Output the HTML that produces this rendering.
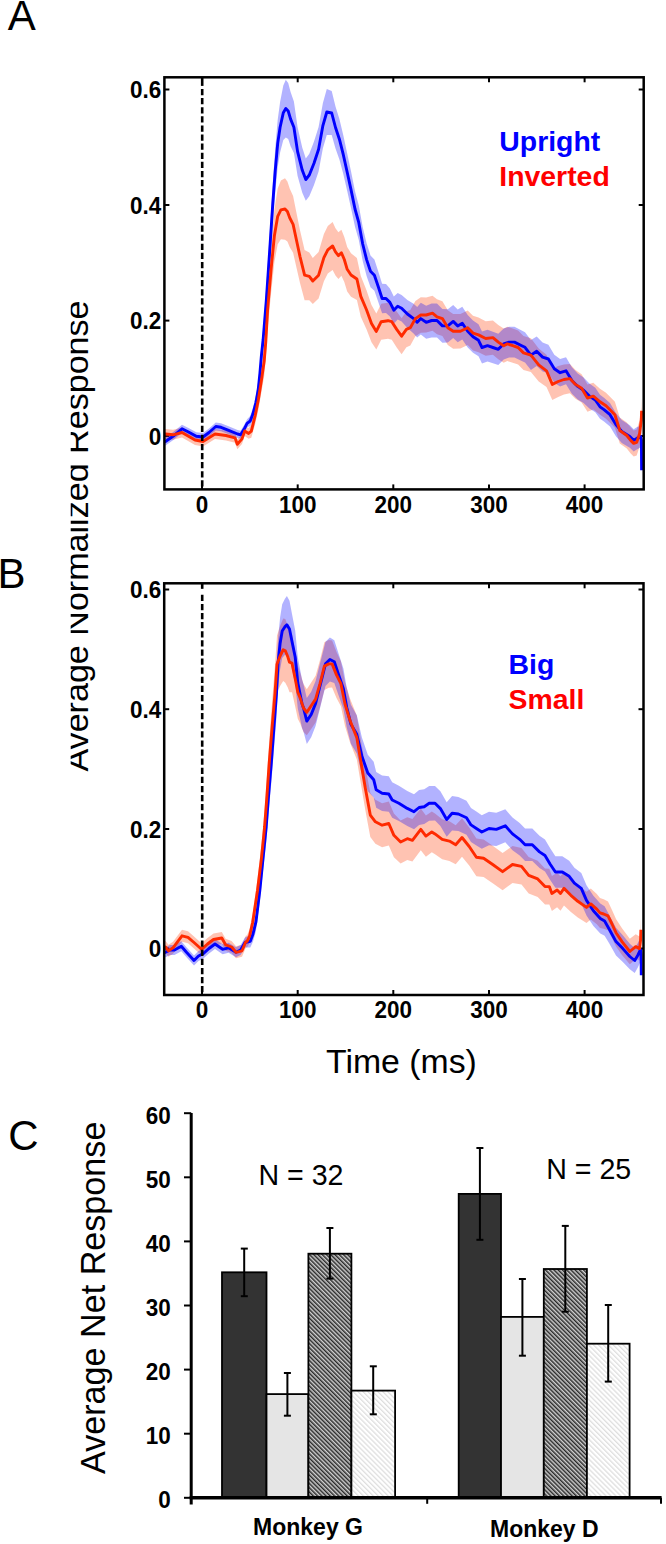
<!DOCTYPE html>
<html><head><meta charset="utf-8"><style>
html,body{margin:0;padding:0;background:#fff;overflow:hidden;}
svg{display:block;}
</style></head><body>
<svg width="666" height="1544" viewBox="0 0 666 1544" style="isolation:isolate">
<rect width="666" height="1544" fill="#fff"/>
<line x1="164.4" y1="89.5" x2="169.4" y2="89.5" stroke="#000" stroke-width="2"/>
<line x1="638.7" y1="89.5" x2="643.7" y2="89.5" stroke="#000" stroke-width="2"/>
<line x1="164.4" y1="205" x2="169.4" y2="205" stroke="#000" stroke-width="2"/>
<line x1="638.7" y1="205" x2="643.7" y2="205" stroke="#000" stroke-width="2"/>
<line x1="164.4" y1="320.6" x2="169.4" y2="320.6" stroke="#000" stroke-width="2"/>
<line x1="638.7" y1="320.6" x2="643.7" y2="320.6" stroke="#000" stroke-width="2"/>
<line x1="164.4" y1="436" x2="169.4" y2="436" stroke="#000" stroke-width="2"/>
<line x1="638.7" y1="436" x2="643.7" y2="436" stroke="#000" stroke-width="2"/>
<line x1="202" y1="77.3" x2="202" y2="82.3" stroke="#000" stroke-width="2"/>
<line x1="202" y1="484.4" x2="202" y2="489.4" stroke="#000" stroke-width="2"/>
<line x1="297.7" y1="77.3" x2="297.7" y2="82.3" stroke="#000" stroke-width="2"/>
<line x1="297.7" y1="484.4" x2="297.7" y2="489.4" stroke="#000" stroke-width="2"/>
<line x1="393.3" y1="77.3" x2="393.3" y2="82.3" stroke="#000" stroke-width="2"/>
<line x1="393.3" y1="484.4" x2="393.3" y2="489.4" stroke="#000" stroke-width="2"/>
<line x1="489" y1="77.3" x2="489" y2="82.3" stroke="#000" stroke-width="2"/>
<line x1="489" y1="484.4" x2="489" y2="489.4" stroke="#000" stroke-width="2"/>
<line x1="584.6" y1="77.3" x2="584.6" y2="82.3" stroke="#000" stroke-width="2"/>
<line x1="584.6" y1="484.4" x2="584.6" y2="489.4" stroke="#000" stroke-width="2"/>
<polygon points="164.5,429.0 165.5,429.0 173.0,429.8 182.0,427.5 195.0,435.0 203.0,436.5 215.0,429.0 226.0,430.5 235.0,432.8 237.3,439.3 242.0,433.9 244.7,426.1 248.6,428.1 251.3,424.5 255.2,406.9 258.3,389.9 261.4,368.8 264.2,346.2 265.8,324.8 267.6,290.7 271.2,244.1 274.4,209.5 277.7,188.5 280.9,180.4 285.0,178.3 287.4,181.5 289.8,188.7 293.1,196.0 296.5,212.9 300.0,230.2 304.6,250.1 309.3,252.6 312.8,258.0 318.6,251.9 323.9,234.0 327.8,226.0 332.6,222.1 335.5,228.2 338.4,232.3 341.4,229.7 344.3,236.9 347.2,247.0 351.0,253.2 356.9,258.1 360.8,276.1 366.6,290.6 371.5,304.9 376.3,313.4 381.2,303.7 388.0,302.7 391.8,303.7 396.7,311.4 401.6,318.2 406.4,311.5 410.3,309.9 415.4,300.9 420.8,297.3 426.2,297.4 432.5,295.7 437.0,299.3 442.4,301.2 447.8,310.3 453.2,313.9 460.4,314.0 467.7,310.4 473.0,315.8 478.5,317.6 485.7,321.3 492.9,320.4 498.3,324.9 503.7,328.6 507.3,326.8 512.7,328.6 518.1,330.4 523.5,335.9 530.9,338.2 538.7,348.4 546.5,354.7 552.3,368.7 558.2,366.1 564.0,364.4 569.9,363.9 575.5,370.0 581.6,374.2 587.5,384.4 593.3,382.7 600.0,388.8 606.0,392.8 611.0,397.7 614.9,401.7 619.8,417.5 626.8,422.5 630.7,427.4 633.7,430.4 636.7,429.4 639.6,420.5 641.3,407.0 641.6,397.7 641.6,423.7 641.3,433.0 639.6,446.5 636.7,455.4 633.7,456.4 630.7,453.4 626.8,448.5 619.8,443.5 614.9,427.7 611.0,423.7 606.0,418.8 600.0,414.8 593.3,409.5 587.5,411.8 581.6,402.4 575.5,398.8 569.9,393.3 564.0,394.6 558.2,396.9 552.3,400.1 546.5,386.9 538.7,381.4 530.9,372.0 523.5,369.9 518.1,364.6 512.7,362.8 507.3,361.0 503.7,362.8 498.3,359.3 492.9,354.8 485.7,355.7 478.5,352.2 473.0,350.4 467.7,345.0 460.4,348.6 453.2,348.7 447.8,345.1 442.4,336.0 437.0,334.3 432.5,330.7 426.2,332.6 420.8,332.7 415.4,336.3 410.3,345.5 406.4,347.3 401.6,354.2 396.7,347.4 391.8,339.7 388.0,338.7 381.2,339.7 376.3,349.4 371.5,342.3 366.6,329.4 360.8,316.7 356.9,299.9 351.0,296.8 347.2,291.6 344.3,282.1 341.4,275.7 338.4,278.9 335.5,275.4 332.6,269.9 327.8,273.6 323.9,281.2 318.6,298.5 312.8,304.0 309.3,300.2 304.6,300.3 300.0,283.0 296.5,267.7 293.1,252.8 289.8,247.3 287.4,241.5 285.0,239.7 280.9,239.2 277.7,244.2 274.4,261.9 271.2,292.1 267.6,329.3 265.8,358.6 264.2,376.0 261.4,392.2 258.3,410.1 255.2,424.1 251.3,437.8 248.6,438.7 244.7,436.1 242.0,443.9 237.3,449.3 235.0,442.8 226.0,440.5 215.0,439.0 203.0,446.5 195.0,445.0 182.0,437.5 173.0,439.8 165.5,439.0 164.5,439.0" fill="#ff3700" fill-opacity="0.3"/>
<polygon points="164.5,438.0 165.5,437.5 173.0,432.3 182.0,424.8 188.0,427.8 196.3,432.3 203.0,433.0 209.0,428.5 215.8,422.5 221.0,423.3 228.6,426.3 237.6,430.0 240.6,430.8 244.3,424.8 247.1,419.3 250.2,416.1 252.9,407.9 256.0,394.9 258.3,380.7 259.9,364.4 261.4,346.0 263.1,329.0 266.3,286.5 269.6,235.0 272.8,183.4 275.2,148.9 277.7,119.7 280.1,102.0 283.3,85.4 285.8,79.7 288.2,82.9 290.6,91.9 293.9,101.4 297.6,127.2 302.3,147.8 305.8,158.5 309.3,153.7 314.0,141.5 318.6,127.1 322.9,103.0 326.8,89.0 331.7,91.0 335.5,106.4 339.4,119.0 343.3,135.3 347.2,153.5 351.0,171.3 355.0,191.2 358.8,205.4 362.7,227.1 366.6,243.2 370.5,255.4 374.4,259.6 378.3,271.6 382.1,283.7 386.0,284.1 389.9,288.4 393.8,296.6 397.7,293.1 401.6,295.0 407.4,300.0 413.6,303.8 417.2,307.0 420.8,302.8 426.2,305.8 431.6,303.5 437.0,303.6 442.4,309.1 447.8,309.3 453.2,304.9 457.7,309.5 462.3,306.8 467.7,315.1 473.0,320.6 478.5,324.3 482.0,331.5 487.5,329.8 492.9,331.8 498.3,333.7 503.7,328.4 509.1,326.7 514.5,326.8 521.7,330.5 525.0,332.2 530.9,340.1 536.7,336.5 542.6,342.6 548.4,344.8 554.3,354.8 560.1,359.0 566.0,357.3 571.9,367.3 577.7,373.4 583.6,377.6 589.4,383.6 595.3,387.8 600.0,394.8 604.0,397.8 610.0,402.9 615.9,413.0 621.8,420.0 629.8,425.2 633.7,429.2 636.7,427.3 640.6,425.5 641.4,429.0 641.6,459.2 641.6,481.2 641.4,451.0 640.6,447.5 636.7,449.5 633.7,451.6 629.8,447.8 621.8,443.0 615.9,436.2 610.0,426.4 604.0,421.6 600.0,418.8 595.3,412.2 589.4,408.6 583.6,403.0 577.7,399.4 571.9,393.7 566.0,384.3 560.1,386.4 554.3,382.8 548.4,373.2 542.6,371.6 536.7,365.9 530.9,370.1 525.0,362.4 521.7,360.9 514.5,357.4 509.1,357.5 503.7,359.4 498.3,364.9 492.9,363.2 487.5,361.6 482.0,363.5 478.5,356.3 473.0,352.8 467.7,347.5 462.3,339.6 457.7,342.3 453.2,337.9 447.8,342.5 442.4,342.7 437.0,337.4 431.6,337.5 426.2,338.8 420.8,334.4 417.2,337.6 413.6,333.4 407.4,328.0 401.6,321.4 397.7,319.5 393.8,323.8 389.9,316.4 386.0,312.9 382.1,313.3 378.3,302.0 374.4,290.8 370.5,287.2 366.6,276.0 362.7,260.9 358.8,240.0 355.0,226.8 351.0,207.9 347.2,190.9 343.3,174.1 339.4,159.4 335.5,148.6 331.7,135.0 326.8,135.0 322.9,148.2 318.6,171.5 314.0,185.1 309.3,196.3 305.8,200.7 302.3,192.8 297.6,176.0 293.9,153.0 290.6,146.3 288.2,139.1 285.8,137.5 283.3,140.0 280.1,152.4 277.7,167.1 275.2,193.1 272.8,223.4 269.6,269.0 266.3,314.5 263.1,351.0 261.4,365.4 259.9,382.6 258.3,397.5 256.0,409.7 252.9,420.1 250.2,425.9 247.1,427.3 244.3,432.8 240.6,438.8 237.6,438.0 228.6,434.3 221.0,431.3 215.8,430.5 209.0,436.5 203.0,441.0 196.3,440.3 188.0,435.8 182.0,432.8 173.0,440.3 165.5,445.5 164.5,446.0" fill="#0000ff" fill-opacity="0.3"/>
<polyline points="164.5,442.0 165.5,441.5 173.0,436.3 182.0,428.8 188.0,431.8 196.3,436.3 203.0,437.0 209.0,432.5 215.8,426.5 221.0,427.3 228.6,430.3 237.6,434.0 240.6,434.8 244.3,428.8 247.1,423.3 250.2,421.0 252.9,414.0 256.0,402.3 258.3,389.1 259.9,373.5 261.4,355.7 263.1,340.0 266.3,300.5 269.6,252.0 272.8,203.4 275.2,171.0 277.7,143.4 280.1,127.2 283.3,112.7 285.8,108.6 288.2,111.0 290.6,119.1 293.9,127.2 297.6,151.6 302.3,170.3 305.8,179.6 309.3,175.0 314.0,163.3 318.6,149.3 322.9,125.6 326.8,112.0 331.7,113.0 335.5,127.5 339.4,139.2 343.3,154.7 347.2,172.2 351.0,189.6 355.0,209.0 358.8,222.7 362.7,244.0 366.6,259.6 370.5,271.3 374.4,275.2 378.3,286.8 382.1,298.5 386.0,298.5 389.9,302.4 393.8,310.2 397.7,306.3 401.6,308.2 407.4,314.0 413.6,318.6 417.2,322.3 420.8,318.6 426.2,322.3 431.6,320.5 437.0,320.5 442.4,325.9 447.8,325.9 453.2,321.4 457.7,325.9 462.3,323.2 467.7,331.3 473.0,336.7 478.5,340.3 482.0,347.5 487.5,345.7 492.9,347.5 498.3,349.3 503.7,343.9 509.1,342.1 514.5,342.1 521.7,345.7 525.0,347.3 530.9,355.1 536.7,351.2 542.6,357.1 548.4,359.0 554.3,368.8 560.1,372.7 566.0,370.8 571.9,380.5 577.7,386.4 583.6,390.3 589.4,396.1 595.3,400.0 600.0,406.8 604.0,409.7 610.0,414.7 615.9,424.6 621.8,431.5 629.8,436.5 633.7,440.4 636.7,438.4 640.6,436.5 641.4,440.0 641.6,470.2" fill="none" stroke="#0000ff" stroke-width="2.9" stroke-linejoin="round"/>
<polyline points="164.5,434.0 165.5,434.0 173.0,434.8 182.0,432.5 195.0,440.0 203.0,441.5 215.0,434.0 226.0,435.5 235.0,437.8 237.3,444.3 242.0,438.9 244.7,431.1 248.6,433.4 251.3,431.1 255.2,415.5 258.3,400.0 261.4,380.5 264.2,361.1 265.8,341.7 267.6,310.0 271.2,268.1 274.4,235.7 277.7,216.3 280.9,209.8 285.0,209.0 287.4,211.5 289.8,218.0 293.1,224.4 296.5,240.3 300.0,256.6 304.6,275.2 309.3,276.4 312.8,281.0 318.6,275.2 323.9,257.6 327.8,249.8 332.6,246.0 335.5,251.8 338.4,255.6 341.4,252.7 344.3,259.5 347.2,269.3 351.0,275.0 356.9,279.0 360.8,296.4 366.6,310.0 371.5,323.6 376.3,331.4 381.2,321.7 388.0,320.7 391.8,321.7 396.7,329.4 401.6,336.2 406.4,329.4 410.3,327.7 415.4,318.6 420.8,315.0 426.2,315.0 432.5,313.2 437.0,316.8 442.4,318.6 447.8,327.7 453.2,331.3 460.4,331.3 467.7,327.7 473.0,333.1 478.5,334.9 485.7,338.5 492.9,337.6 498.3,342.1 503.7,345.7 507.3,343.9 512.7,345.7 518.1,347.5 523.5,352.9 530.9,355.1 538.7,364.9 546.5,370.8 552.3,384.4 558.2,381.5 564.0,379.5 569.9,378.6 575.5,384.4 581.6,388.3 587.5,398.1 593.3,396.1 600.0,401.8 606.0,405.8 611.0,410.7 614.9,414.7 619.8,430.5 626.8,435.5 630.7,440.4 633.7,443.4 636.7,442.4 639.6,433.5 641.3,420.0 641.6,410.7" fill="none" stroke="#ff2a00" stroke-width="2.9" stroke-linejoin="round"/>
<line x1="202.2" y1="77.3" x2="202.2" y2="85.9" stroke="#000" stroke-width="2.6"/>
<line x1="202.2" y1="89.0" x2="202.2" y2="489.4" stroke="#000" stroke-width="2.6" stroke-dasharray="6.25,2.85"/>
<rect x="164.4" y="77.3" width="479.3" height="412.1" fill="none" stroke="#000" stroke-width="2.5"/>
<text transform="translate(161.20,98.10) scale(1,1.05)" text-anchor="end" font-family="'Liberation Sans', sans-serif" font-weight="bold" font-size="22.5" fill="#000">0.6</text>
<text transform="translate(161.20,213.60) scale(1,1.05)" text-anchor="end" font-family="'Liberation Sans', sans-serif" font-weight="bold" font-size="22.5" fill="#000">0.4</text>
<text transform="translate(161.20,329.20) scale(1,1.05)" text-anchor="end" font-family="'Liberation Sans', sans-serif" font-weight="bold" font-size="22.5" fill="#000">0.2</text>
<text transform="translate(161.20,444.60) scale(1,1.05)" text-anchor="end" font-family="'Liberation Sans', sans-serif" font-weight="bold" font-size="22.5" fill="#000">0</text>
<text transform="translate(202.00,512.50) scale(1,1.05)" text-anchor="middle" font-family="'Liberation Sans', sans-serif" font-weight="bold" font-size="22.5" fill="#000">0</text>
<text transform="translate(297.70,512.50) scale(1,1.05)" text-anchor="middle" font-family="'Liberation Sans', sans-serif" font-weight="bold" font-size="22.5" fill="#000">100</text>
<text transform="translate(393.30,512.50) scale(1,1.05)" text-anchor="middle" font-family="'Liberation Sans', sans-serif" font-weight="bold" font-size="22.5" fill="#000">200</text>
<text transform="translate(489.00,512.50) scale(1,1.05)" text-anchor="middle" font-family="'Liberation Sans', sans-serif" font-weight="bold" font-size="22.5" fill="#000">300</text>
<text transform="translate(584.60,512.50) scale(1,1.05)" text-anchor="middle" font-family="'Liberation Sans', sans-serif" font-weight="bold" font-size="22.5" fill="#000">400</text>
<text transform="translate(499.30,150.80)" text-anchor="start" font-family="'Liberation Sans', sans-serif" font-weight="bold" font-size="28.4" fill="#0000ff">Upright</text>
<text transform="translate(499.30,186.30)" text-anchor="start" font-family="'Liberation Sans', sans-serif" font-weight="bold" font-size="28.4" fill="#ff0000">Inverted</text>
<line x1="164.2" y1="589.5" x2="169.2" y2="589.5" stroke="#000" stroke-width="2"/>
<line x1="638.5" y1="589.5" x2="643.5" y2="589.5" stroke="#000" stroke-width="2"/>
<line x1="164.2" y1="709.2" x2="169.2" y2="709.2" stroke="#000" stroke-width="2"/>
<line x1="638.5" y1="709.2" x2="643.5" y2="709.2" stroke="#000" stroke-width="2"/>
<line x1="164.2" y1="829" x2="169.2" y2="829" stroke="#000" stroke-width="2"/>
<line x1="638.5" y1="829" x2="643.5" y2="829" stroke="#000" stroke-width="2"/>
<line x1="164.2" y1="948.5" x2="169.2" y2="948.5" stroke="#000" stroke-width="2"/>
<line x1="638.5" y1="948.5" x2="643.5" y2="948.5" stroke="#000" stroke-width="2"/>
<line x1="202" y1="583.3" x2="202" y2="588.3" stroke="#000" stroke-width="2"/>
<line x1="202" y1="990" x2="202" y2="995" stroke="#000" stroke-width="2"/>
<line x1="297.7" y1="583.3" x2="297.7" y2="588.3" stroke="#000" stroke-width="2"/>
<line x1="297.7" y1="990" x2="297.7" y2="995" stroke="#000" stroke-width="2"/>
<line x1="393.3" y1="583.3" x2="393.3" y2="588.3" stroke="#000" stroke-width="2"/>
<line x1="393.3" y1="990" x2="393.3" y2="995" stroke="#000" stroke-width="2"/>
<line x1="489" y1="583.3" x2="489" y2="588.3" stroke="#000" stroke-width="2"/>
<line x1="489" y1="990" x2="489" y2="995" stroke="#000" stroke-width="2"/>
<line x1="584.6" y1="583.3" x2="584.6" y2="588.3" stroke="#000" stroke-width="2"/>
<line x1="584.6" y1="990" x2="584.6" y2="995" stroke="#000" stroke-width="2"/>
<polygon points="164.5,941.0 165.5,941.0 168.5,944.8 173.0,941.8 182.0,929.8 188.0,931.3 194.0,936.5 201.5,943.3 207.5,938.0 213.5,933.5 221.8,932.0 225.6,938.8 231.6,941.0 236.0,946.3 242.0,944.8 245.8,935.8 247.1,935.3 249.6,929.1 252.7,913.5 257.5,879.1 261.4,845.0 264.6,810.2 267.0,775.8 269.2,741.2 272.2,701.0 275.0,665.3 277.0,635.4 280.1,626.0 283.2,618.4 285.3,618.9 287.9,626.2 289.5,632.1 292.0,634.2 295.2,651.2 297.8,665.7 300.3,673.0 302.0,678.9 303.5,683.9 306.8,689.3 311.2,682.5 315.6,675.7 320.0,660.1 324.4,642.3 328.8,640.0 332.1,640.4 336.5,651.9 340.9,661.2 345.0,682.0 350.1,698.8 356.8,715.6 360.2,735.8 365.3,766.1 370.3,793.1 375.4,799.8 382.1,803.2 388.8,801.5 393.9,813.4 400.6,820.4 407.3,817.3 412.4,819.1 420.8,808.6 425.9,815.4 431.8,811.5 435.0,813.6 442.2,819.3 449.4,821.3 455.7,825.2 462.0,818.2 469.2,827.5 476.4,838.4 483.6,839.4 492.7,845.8 502.6,853.1 512.5,846.1 521.5,848.0 528.7,857.1 537.7,860.8 545.0,868.6 549.3,868.8 551.9,875.9 557.1,872.7 560.5,876.3 564.0,871.4 570.9,878.7 577.8,885.1 586.5,891.7 590.8,888.4 596.8,893.9 600.0,897.9 603.7,899.3 608.0,901.5 612.0,909.9 616.0,918.9 622.0,928.2 629.8,938.7 635.7,934.3 639.6,936.6 640.6,928.0 640.9,917.7 640.9,941.7 640.6,952.0 639.6,960.6 635.7,958.9 629.8,964.3 622.0,955.0 616.0,946.5 612.0,938.1 608.0,930.3 603.7,928.7 600.0,927.9 596.8,924.3 590.8,919.4 586.5,923.1 577.8,917.5 570.9,911.9 564.0,905.4 560.5,910.7 557.1,907.3 551.9,911.1 549.3,904.4 545.0,904.6 537.7,897.0 528.7,893.5 521.5,884.6 512.5,882.9 502.6,890.3 492.7,883.2 483.6,877.0 476.4,876.2 469.2,865.5 462.0,856.8 455.7,864.2 449.4,860.9 442.2,859.3 435.0,854.2 431.8,852.3 425.9,856.8 420.8,850.2 412.4,861.5 407.3,860.1 400.6,863.6 393.9,857.2 388.8,845.5 382.1,847.2 375.4,843.8 370.3,837.1 365.3,810.1 360.2,779.8 356.8,759.6 350.1,742.8 345.0,726.0 340.9,706.2 336.5,697.9 332.1,687.4 328.8,687.8 324.4,689.9 320.0,707.3 315.6,722.5 311.2,728.9 306.8,735.3 303.5,732.1 302.0,728.3 300.3,723.8 297.8,718.7 295.2,706.4 292.0,692.2 289.5,692.3 287.9,687.8 285.3,682.7 283.2,681.0 280.1,686.0 277.0,693.0 275.0,721.3 272.2,751.0 269.2,784.8 267.0,814.6 264.6,843.8 261.4,872.4 257.5,901.9 252.7,930.9 249.6,942.9 247.1,947.3 245.8,947.8 242.0,956.8 236.0,958.3 231.6,953.0 225.6,950.8 221.8,944.0 213.5,945.5 207.5,950.0 201.5,955.3 194.0,948.5 188.0,943.3 182.0,941.8 173.0,953.8 168.5,956.8 165.5,953.0 164.5,953.0" fill="#ff3700" fill-opacity="0.3"/>
<polygon points="164.5,947.5 165.5,947.3 170.0,945.0 174.5,945.0 181.3,941.3 186.5,947.3 194.0,955.5 198.5,951.0 203.0,948.8 209.0,943.5 215.0,939.0 222.6,944.3 228.6,942.8 236.0,947.3 240.6,945.0 245.0,937.5 250.3,935.1 253.0,926.5 255.9,913.2 259.8,879.6 263.0,845.8 266.2,811.4 268.6,777.5 271.4,741.9 273.9,705.8 276.5,669.1 278.1,637.2 280.1,617.6 282.2,604.3 284.8,598.9 286.9,595.9 289.5,600.8 292.0,614.1 295.2,630.6 297.8,657.3 300.3,670.5 302.0,679.3 303.5,684.2 306.8,698.1 311.2,691.7 315.6,680.9 320.0,663.5 325.5,641.7 329.9,637.5 334.3,640.3 338.7,654.1 343.4,668.6 346.7,687.4 350.9,704.7 356.8,715.2 361.9,737.6 367.8,754.8 373.7,761.8 376.2,771.9 382.1,775.4 388.8,776.3 392.2,782.3 398.9,785.7 407.3,790.9 414.0,794.2 419.1,790.1 424.2,789.3 429.2,785.9 435.0,785.9 440.4,791.3 446.7,802.3 452.1,796.0 458.4,796.9 466.5,800.7 471.0,807.9 476.4,811.6 481.8,815.2 489.0,811.8 496.3,812.8 505.3,809.3 512.5,817.5 519.7,823.0 525.1,828.4 532.3,828.5 539.5,835.8 545.0,839.5 550.2,848.3 555.4,856.2 562.3,856.3 569.2,860.7 574.4,867.7 581.3,873.1 586.5,885.2 593.4,895.7 600.3,903.5 604.6,906.3 609.0,914.4 616.0,927.8 622.8,935.3 629.8,943.7 634.7,948.1 637.7,943.3 640.6,937.5 641.1,943.0 641.3,963.3 641.3,987.3 641.1,967.0 640.6,961.5 637.7,967.7 634.7,972.9 629.8,969.3 622.8,961.9 616.0,955.4 609.0,943.0 604.6,935.7 600.3,933.5 593.4,925.9 586.5,915.6 581.3,903.7 574.4,898.7 569.2,891.9 562.3,887.7 555.4,887.8 550.2,880.1 545.0,871.5 539.5,868.0 532.3,860.9 525.1,861.0 519.7,855.6 512.5,850.3 505.3,842.3 496.3,846.0 489.0,845.2 481.8,848.8 476.4,845.4 471.0,841.9 466.5,834.7 458.4,831.1 452.1,830.4 446.7,836.7 440.4,825.9 435.0,820.5 429.2,820.7 424.2,824.1 419.1,824.9 414.0,829.2 407.3,825.9 398.9,820.9 392.2,817.7 388.8,811.7 382.1,811.0 376.2,807.7 373.7,797.6 367.8,791.2 361.9,774.8 356.8,753.4 350.9,743.7 346.7,727.2 343.4,709.0 338.7,695.7 334.3,683.1 329.9,681.5 325.5,686.1 320.0,708.3 315.6,726.1 311.2,737.3 306.8,744.1 303.5,731.8 302.0,727.9 300.3,720.1 297.8,708.5 295.2,683.4 292.0,668.9 289.5,657.2 286.9,653.9 284.8,654.9 282.2,657.9 280.1,669.4 278.1,687.2 276.5,717.5 273.9,750.2 271.4,782.1 268.6,812.9 266.2,842.6 263.0,871.6 259.8,901.4 255.9,931.2 253.0,941.5 250.3,947.4 245.0,947.5 240.6,955.0 236.0,957.3 228.6,952.8 222.6,954.3 215.0,949.0 209.0,953.5 203.0,958.8 198.5,961.0 194.0,965.5 186.5,957.3 181.3,951.3 174.5,955.0 170.0,955.0 165.5,957.3 164.5,957.5" fill="#0000ff" fill-opacity="0.3"/>
<polyline points="164.5,952.5 165.5,952.3 170.0,950.0 174.5,950.0 181.3,946.3 186.5,952.3 194.0,960.5 198.5,956.0 203.0,953.8 209.0,948.5 215.0,944.0 222.6,949.3 228.6,947.8 236.0,952.3 240.6,950.0 245.0,942.5 250.3,941.3 253.0,934.0 255.9,922.2 259.8,890.5 263.0,858.7 266.2,827.0 268.6,795.2 271.4,762.0 273.9,728.0 276.5,693.3 278.1,662.2 280.1,643.5 282.2,631.1 284.8,626.9 286.9,624.9 289.5,629.0 292.0,641.5 295.2,657.0 297.8,682.9 300.3,695.3 302.0,703.6 303.5,708.0 306.8,721.1 311.2,714.5 315.6,703.5 320.0,685.9 325.5,663.9 329.9,659.5 334.3,661.7 338.7,674.9 343.4,688.8 346.7,707.3 350.9,724.2 356.8,734.3 361.9,756.2 367.8,773.0 373.7,779.7 376.2,789.8 382.1,793.2 388.8,794.0 392.2,800.0 398.9,803.3 407.3,808.4 414.0,811.7 419.1,807.5 424.2,806.7 429.2,803.3 435.0,803.2 440.4,808.6 446.7,819.5 452.1,813.2 458.4,814.0 466.5,817.7 471.0,824.9 476.4,828.5 481.8,832.0 489.0,828.5 496.3,829.4 505.3,825.8 512.5,833.9 519.7,839.3 525.1,844.7 532.3,844.7 539.5,851.9 545.0,855.5 550.2,864.2 555.4,872.0 562.3,872.0 569.2,876.3 574.4,883.2 581.3,888.4 586.5,900.4 593.4,910.8 600.3,918.5 604.6,921.0 609.0,928.7 616.0,941.6 622.8,948.6 629.8,956.5 634.7,960.5 637.7,955.5 640.6,949.5 641.1,955.0 641.3,975.3" fill="none" stroke="#0000ff" stroke-width="2.9" stroke-linejoin="round"/>
<polyline points="164.5,947.0 165.5,947.0 168.5,950.8 173.0,947.8 182.0,935.8 188.0,937.3 194.0,942.5 201.5,949.3 207.5,944.0 213.5,939.5 221.8,938.0 225.6,944.8 231.6,947.0 236.0,952.3 242.0,950.8 245.8,941.8 247.1,941.3 249.6,936.0 252.7,922.2 257.5,890.5 261.4,858.7 264.6,827.0 267.0,795.2 269.2,763.0 272.2,726.0 275.0,693.3 277.0,664.2 280.1,656.0 283.2,649.7 285.3,650.8 287.9,657.0 289.5,662.2 292.0,663.2 295.2,678.8 297.8,692.2 300.3,698.4 302.0,703.6 303.5,708.0 306.8,712.3 311.2,705.7 315.6,699.1 320.0,683.7 324.4,666.1 328.8,663.9 332.1,663.9 336.5,674.9 340.9,683.7 345.0,704.0 350.1,720.8 356.8,737.6 360.2,757.8 365.3,788.1 370.3,815.1 375.4,821.8 382.1,825.2 388.8,823.5 393.9,835.3 400.6,842.0 407.3,838.7 412.4,840.3 420.8,829.4 425.9,836.1 431.8,831.9 435.0,833.9 442.2,839.3 449.4,841.1 455.7,844.7 462.0,837.5 469.2,846.5 476.4,857.3 483.6,858.2 492.7,864.5 502.6,871.7 512.5,864.5 521.5,866.3 528.7,875.3 537.7,878.9 545.0,886.6 549.3,886.6 551.9,893.5 557.1,890.0 560.5,893.5 564.0,888.4 570.9,895.3 577.8,901.3 586.5,907.4 590.8,903.9 596.8,909.1 600.0,912.9 603.7,914.0 608.0,915.9 612.0,924.0 616.0,932.7 622.0,941.6 629.8,951.5 635.7,946.6 639.6,948.6 640.6,940.0 640.9,929.7" fill="none" stroke="#ff2a00" stroke-width="2.9" stroke-linejoin="round"/>
<line x1="202.2" y1="583.3" x2="202.2" y2="588.8" stroke="#000" stroke-width="2.6"/>
<line x1="202.2" y1="594.8" x2="202.2" y2="995" stroke="#000" stroke-width="2.6" stroke-dasharray="6.25,2.85"/>
<rect x="164.2" y="583.3" width="479.3" height="411.7" fill="none" stroke="#000" stroke-width="2.5"/>
<text transform="translate(161.20,598.10) scale(1,1.05)" text-anchor="end" font-family="'Liberation Sans', sans-serif" font-weight="bold" font-size="22.5" fill="#000">0.6</text>
<text transform="translate(161.20,717.80) scale(1,1.05)" text-anchor="end" font-family="'Liberation Sans', sans-serif" font-weight="bold" font-size="22.5" fill="#000">0.4</text>
<text transform="translate(161.20,837.60) scale(1,1.05)" text-anchor="end" font-family="'Liberation Sans', sans-serif" font-weight="bold" font-size="22.5" fill="#000">0.2</text>
<text transform="translate(161.20,957.10) scale(1,1.05)" text-anchor="end" font-family="'Liberation Sans', sans-serif" font-weight="bold" font-size="22.5" fill="#000">0</text>
<text transform="translate(202.00,1018.10) scale(1,1.05)" text-anchor="middle" font-family="'Liberation Sans', sans-serif" font-weight="bold" font-size="22.5" fill="#000">0</text>
<text transform="translate(297.70,1018.10) scale(1,1.05)" text-anchor="middle" font-family="'Liberation Sans', sans-serif" font-weight="bold" font-size="22.5" fill="#000">100</text>
<text transform="translate(393.30,1018.10) scale(1,1.05)" text-anchor="middle" font-family="'Liberation Sans', sans-serif" font-weight="bold" font-size="22.5" fill="#000">200</text>
<text transform="translate(489.00,1018.10) scale(1,1.05)" text-anchor="middle" font-family="'Liberation Sans', sans-serif" font-weight="bold" font-size="22.5" fill="#000">300</text>
<text transform="translate(584.60,1018.10) scale(1,1.05)" text-anchor="middle" font-family="'Liberation Sans', sans-serif" font-weight="bold" font-size="22.5" fill="#000">400</text>
<text transform="translate(508.60,673.50)" text-anchor="start" font-family="'Liberation Sans', sans-serif" font-weight="bold" font-size="28.4" fill="#0000ff">Big</text>
<text transform="translate(508.60,708.80)" text-anchor="start" font-family="'Liberation Sans', sans-serif" font-weight="bold" font-size="28.4" fill="#ff0000">Small</text>
<text transform="translate(7.80,30.40)" text-anchor="start" font-family="'Liberation Sans', sans-serif" font-size="42" fill="#000">A</text>
<text transform="translate(-2.40,588.40)" text-anchor="start" font-family="'Liberation Sans', sans-serif" font-size="42" fill="#000">B</text>
<text transform="translate(8.20,1150.20)" text-anchor="start" font-family="'Liberation Sans', sans-serif" font-size="42" fill="#000">C</text>
<defs><clipPath id="ylc"><rect x="70.7" y="0" width="100" height="1544"/></clipPath></defs>
<g clip-path="url(#ylc)"><text transform="translate(88.20,771.50) rotate(-90)" text-anchor="start" font-family="'Liberation Sans', sans-serif" font-size="34.1" fill="#000">Average Normalized Response</text></g>
<text transform="translate(326.00,1073.20)" text-anchor="start" font-family="'Liberation Sans', sans-serif" font-size="33.8" fill="#000">Time (ms)</text>
<defs>
<pattern id="h1" patternUnits="userSpaceOnUse" width="3" height="3" patternTransform="rotate(-45)"><rect width="3" height="3" fill="#d0d0d0"/><rect x="0" y="0" width="1.5" height="3" fill="#2a2a2a"/></pattern>
<pattern id="h2" patternUnits="userSpaceOnUse" width="3.5" height="3.5" patternTransform="rotate(-45)"><rect width="3.5" height="3.5" fill="#ffffff"/><rect x="0" y="0" width="1.3" height="3.5" fill="#dedede"/></pattern>
</defs>
<rect x="222.0" y="1272.3" width="44.5" height="225.5" fill="#333333" stroke="#000" stroke-width="1.8"/>
<rect x="266.5" y="1394.1" width="41.9" height="103.7" fill="#e5e5e5" stroke="#000" stroke-width="1.8"/>
<rect x="308.4" y="1253.7" width="43.0" height="244.1" fill="url(#h1)" stroke="#000" stroke-width="1.8"/>
<rect x="351.4" y="1390.6" width="43.7" height="107.2" fill="url(#h2)" stroke="#000" stroke-width="1.8"/>
<rect x="458.7" y="1193.9" width="42.3" height="303.9" fill="#333333" stroke="#000" stroke-width="1.8"/>
<rect x="501.0" y="1316.9" width="42.8" height="180.9" fill="#e5e5e5" stroke="#000" stroke-width="1.8"/>
<rect x="543.8" y="1269.0" width="43.1" height="228.8" fill="url(#h1)" stroke="#000" stroke-width="1.8"/>
<rect x="586.9" y="1343.7" width="42.7" height="154.1" fill="url(#h2)" stroke="#000" stroke-width="1.8"/>
<line x1="244.2" y1="1248.6" x2="244.2" y2="1296.2" stroke="#000" stroke-width="2"/>
<line x1="240.8" y1="1248.6" x2="247.8" y2="1248.6" stroke="#000" stroke-width="2"/>
<line x1="240.8" y1="1296.2" x2="247.8" y2="1296.2" stroke="#000" stroke-width="2"/>
<line x1="287.4" y1="1373" x2="287.4" y2="1415.7" stroke="#000" stroke-width="2"/>
<line x1="283.9" y1="1373" x2="290.9" y2="1373" stroke="#000" stroke-width="2"/>
<line x1="283.9" y1="1415.7" x2="290.9" y2="1415.7" stroke="#000" stroke-width="2"/>
<line x1="329.9" y1="1228" x2="329.9" y2="1278.6" stroke="#000" stroke-width="2"/>
<line x1="326.4" y1="1228" x2="333.4" y2="1228" stroke="#000" stroke-width="2"/>
<line x1="326.4" y1="1278.6" x2="333.4" y2="1278.6" stroke="#000" stroke-width="2"/>
<line x1="373.2" y1="1366.3" x2="373.2" y2="1414.3" stroke="#000" stroke-width="2"/>
<line x1="369.8" y1="1366.3" x2="376.8" y2="1366.3" stroke="#000" stroke-width="2"/>
<line x1="369.8" y1="1414.3" x2="376.8" y2="1414.3" stroke="#000" stroke-width="2"/>
<line x1="479.9" y1="1148" x2="479.9" y2="1239.8" stroke="#000" stroke-width="2"/>
<line x1="476.4" y1="1148" x2="483.4" y2="1148" stroke="#000" stroke-width="2"/>
<line x1="476.4" y1="1239.8" x2="483.4" y2="1239.8" stroke="#000" stroke-width="2"/>
<line x1="522.4" y1="1279" x2="522.4" y2="1355.7" stroke="#000" stroke-width="2"/>
<line x1="518.9" y1="1279" x2="525.9" y2="1279" stroke="#000" stroke-width="2"/>
<line x1="518.9" y1="1355.7" x2="525.9" y2="1355.7" stroke="#000" stroke-width="2"/>
<line x1="565.3" y1="1225.9" x2="565.3" y2="1311.7" stroke="#000" stroke-width="2"/>
<line x1="561.8" y1="1225.9" x2="568.8" y2="1225.9" stroke="#000" stroke-width="2"/>
<line x1="561.8" y1="1311.7" x2="568.8" y2="1311.7" stroke="#000" stroke-width="2"/>
<line x1="608.2" y1="1305" x2="608.2" y2="1381.6" stroke="#000" stroke-width="2"/>
<line x1="604.8" y1="1305" x2="611.8" y2="1305" stroke="#000" stroke-width="2"/>
<line x1="604.8" y1="1381.6" x2="611.8" y2="1381.6" stroke="#000" stroke-width="2"/>
<line x1="191.2" y1="1113" x2="191.2" y2="1504.6" stroke="#000" stroke-width="3"/>
<line x1="189.7" y1="1497.8" x2="661.6" y2="1497.8" stroke="#000" stroke-width="3.4"/>
<line x1="427.2" y1="1497.8" x2="427.2" y2="1503.8" stroke="#000" stroke-width="2"/>
<line x1="661" y1="1497.8" x2="661" y2="1503.8" stroke="#000" stroke-width="2"/>
<line x1="184" y1="1497.8" x2="191.2" y2="1497.8" stroke="#000" stroke-width="2"/>
<text transform="translate(170.80,1508.40) scale(1,1.05)" text-anchor="end" font-family="'Liberation Sans', sans-serif" font-weight="bold" font-size="22.5" fill="#000">0</text>
<line x1="184" y1="1433.7" x2="191.2" y2="1433.7" stroke="#000" stroke-width="2"/>
<text transform="translate(170.80,1444.30) scale(1,1.05)" text-anchor="end" font-family="'Liberation Sans', sans-serif" font-weight="bold" font-size="22.5" fill="#000">10</text>
<line x1="184" y1="1369.6" x2="191.2" y2="1369.6" stroke="#000" stroke-width="2"/>
<text transform="translate(170.80,1380.20) scale(1,1.05)" text-anchor="end" font-family="'Liberation Sans', sans-serif" font-weight="bold" font-size="22.5" fill="#000">20</text>
<line x1="184" y1="1305.5" x2="191.2" y2="1305.5" stroke="#000" stroke-width="2"/>
<text transform="translate(170.80,1316.10) scale(1,1.05)" text-anchor="end" font-family="'Liberation Sans', sans-serif" font-weight="bold" font-size="22.5" fill="#000">30</text>
<line x1="184" y1="1241.4" x2="191.2" y2="1241.4" stroke="#000" stroke-width="2"/>
<text transform="translate(170.80,1252.00) scale(1,1.05)" text-anchor="end" font-family="'Liberation Sans', sans-serif" font-weight="bold" font-size="22.5" fill="#000">40</text>
<line x1="184" y1="1177.3" x2="191.2" y2="1177.3" stroke="#000" stroke-width="2"/>
<text transform="translate(170.80,1187.90) scale(1,1.05)" text-anchor="end" font-family="'Liberation Sans', sans-serif" font-weight="bold" font-size="22.5" fill="#000">50</text>
<line x1="184" y1="1113.2" x2="191.2" y2="1113.2" stroke="#000" stroke-width="2"/>
<text transform="translate(170.80,1123.80) scale(1,1.05)" text-anchor="end" font-family="'Liberation Sans', sans-serif" font-weight="bold" font-size="22.5" fill="#000">60</text>
<text transform="translate(308.00,1535.30)" text-anchor="middle" font-family="'Liberation Sans', sans-serif" font-weight="bold" font-size="23" fill="#000">Monkey G</text>
<text transform="translate(544.30,1536.60)" text-anchor="middle" font-family="'Liberation Sans', sans-serif" font-weight="bold" font-size="23" fill="#000">Monkey D</text>
<text transform="translate(301.00,1185.10)" text-anchor="middle" font-family="'Liberation Sans', sans-serif" font-size="28.6" fill="#000">N = 32</text>
<text transform="translate(588.70,1178.70)" text-anchor="middle" font-family="'Liberation Sans', sans-serif" font-size="28.6" fill="#000">N = 25</text>
<text transform="translate(105.20,1474.00) rotate(-90)" text-anchor="start" font-family="'Liberation Sans', sans-serif" font-size="34.15" fill="#000">Average Net Response</text>
</svg>
</body></html>
